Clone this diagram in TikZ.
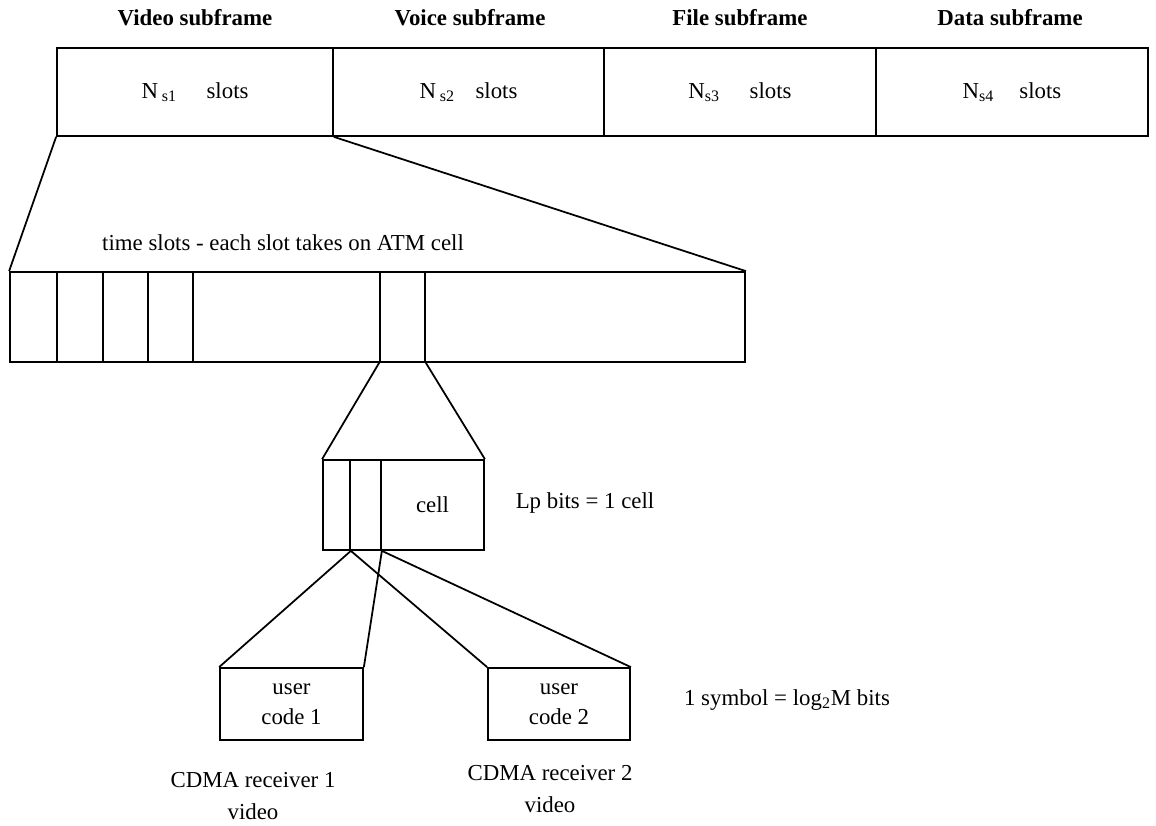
\documentclass[tikz,border=0pt]{standalone}
\usepackage{fontspec}
\setmainfont{Liberation Serif}
\usepackage{tikz}

\begin{document}
\begin{tikzpicture}[line width=1pt, font=\fontsize{13pt}{17pt}\selectfont,
	bx/.style={shape=rectangle, draw, inner sep=0}]
	\useasboundingbox (0, 0) rectangle (23.12, 16.5);
	% Frame with the four subframes:
	\node[bx, minimum width=5.52cm, minimum height=1.76cm](Video) at (3.9, 14.66){N\,\textsubscript{s1}\hspace{1.3em}slots};
	\node[bx, minimum width=5.42cm, minimum height=1.76cm](Voice) at (9.37, 14.66){N\,\textsubscript{s2}\hspace{0.9em}slots};
	\node[bx, minimum width=5.44cm, minimum height=1.76cm](File) at (14.8, 14.66){N\textsubscript{s3}\hspace{1.3em}slots};
	\node[bx, minimum width=5.44cm, minimum height=1.76cm](Data) at (20.24, 14.66){N\textsubscript{s4}\hspace{1.1em}slots};
	\node[anchor=center, font=\fontsize{13pt}{15pt}\selectfont\bfseries] at (3.9, 16.14){Video subframe};
	\node[anchor=center, font=\fontsize{13pt}{15pt}\selectfont\bfseries] at (9.4, 16.14){Voice subframe};
	\node[anchor=center, font=\fontsize{13pt}{15pt}\selectfont\bfseries] at (14.8, 16.14){File subframe};
	\node[anchor=center, font=\fontsize{13pt}{15pt}\selectfont\bfseries] at (20.2, 16.14){Data subframe};
	% Time slots:
	\node[bx, minimum width=0.94cm, minimum height=1.8cm](S1) at (0.67, 10.16){};
	\node[bx, minimum width=0.92cm, minimum height=1.8cm](S2) at (1.6, 10.16){};
	\node[bx, minimum width=0.9cm, minimum height=1.8cm](S3) at (2.51, 10.16){};
	\node[bx, minimum width=0.9cm, minimum height=1.8cm](S4) at (3.41, 10.16){};
	\node[bx, minimum width=3.74cm, minimum height=1.8cm](S5) at (5.73, 10.16){};
	\node[bx, minimum width=0.9cm, minimum height=1.8cm](Slot) at (8.05, 10.16){};
	\node[bx, minimum width=6.4cm, minimum height=1.8cm](S7) at (11.7, 10.16){};
	\node[anchor=center] at (5.66, 11.64){time slots - each slot takes on ATM cell};
	\draw (Video.south west) -- (S1.north west);
	\draw (Video.south east) -- (S7.north east);
	% Cell:
	\node[bx, minimum width=0.54cm, minimum height=1.8cm](B1) at (6.73, 6.4){};
	\node[bx, minimum width=0.62cm, minimum height=1.8cm](B2) at (7.31, 6.4){};
	\node[bx, minimum width=2.06cm, minimum height=1.8cm](Cell) at (8.65, 6.4){cell};
	\node[anchor=center] at (11.7, 6.44){Lp bits = 1 cell};
	\draw (Slot.south west) -- (B1.north west);
	\draw (Slot.south east) -- (Cell.north east);
	% User codes:
	\node[bx, minimum width=2.86cm, minimum height=1.44cm, align=center](Code1) at (5.83, 2.42){user\\code 1};
	\node[bx, minimum width=2.84cm, minimum height=1.44cm, align=center](Code2) at (11.18, 2.42){user\\code 2};
	\node[anchor=center] at (15.74, 2.5){1 symbol = log\textsubscript{2}M bits};
	\draw (B1.south east) -- (Code1.north west);
	\draw (B1.south east) -- (Code2.north west);
	\draw (B2.south east) -- (Code1.north east);
	\draw (B2.south east) -- (Code2.north east);
	% Receivers:
	\node[anchor=center](Rx1) at (5.06, 0.9){CDMA receiver 1};
	\node[anchor=center] at (5.06, 0.26){video};
	\node[anchor=center](Rx2) at (11.0, 1.04){CDMA receiver 2};
	\node[anchor=center] at (11.0, 0.4){video};
\end{tikzpicture}
\end{document}
